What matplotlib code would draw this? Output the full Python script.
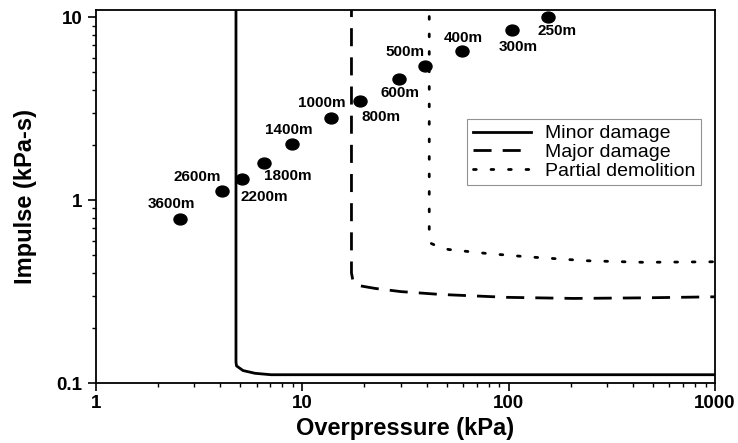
import numpy as np
import matplotlib
matplotlib.use('Agg')
from matplotlib import pyplot as plt
from matplotlib.path import Path
from matplotlib.ticker import NullFormatter

plt.rcParams['font.family'] = ['Liberation Sans', 'DejaVu Sans']

# blast points (standoff distance)
dist_labels = ['3600m', '2600m', '2200m', '1800m', '1400m', '1000m',
               '800m', '600m', '500m', '400m', '300m', '250m']
overpressure = [2.55, 4.07, 5.08, 6.52, 8.91, 13.8, 19.0, 29.3, 39.5, 59.2, 103.5, 155]
impulse = [0.79, 1.12, 1.31, 1.60, 2.02, 2.81, 3.49, 4.57, 5.42, 6.55, 8.5, 10.0]

# P-I damage curves
minor_p = [4.77, 4.77, 4.80, 5.16, 5.9, 7.05, 1000]
minor_i = [20, 0.13, 0.124, 0.117, 0.113, 0.111, 0.111]
major_p = [17.3, 17.3, 17.6, 19, 22.5, 30, 46.5, 98, 206, 433, 1000]
major_i = [20, 0.40, 0.36, 0.34, 0.329, 0.316, 0.305, 0.294, 0.290, 0.292, 0.296]
partial_p = [41.2, 41.2, 42, 45, 51, 78, 122, 239, 448, 1000]
partial_i = [20, 0.62, 0.58, 0.56, 0.537, 0.511, 0.49, 0.466, 0.457, 0.46]

# label offsets in pixels (dx, dy)
offsets = [(-8, 15), (-25, 14), (23, -18), (24, -13), (-3, 14), (-9, 15),
           (21, -16), (1, -14), (-20, 14), (2, 13), (6, -17), (9, -14)]

circ = Path.unit_circle()
ellipse = Path(circ.vertices * np.array([1.2, 1.0]), circ.codes)

fig = plt.figure(figsize=(7.38, 4.43), dpi=100)
ax = fig.add_axes([0.130, 0.1354, 0.839, 0.843])

lw = 2.0
ax.plot(minor_p, minor_i, color='black', lw=lw, label='Minor damage')
ax.plot(major_p, major_i, color='black', lw=lw, dashes=(6.5, 4), label='Major damage')
ax.plot(partial_p, partial_i, color='black', lw=lw, dashes=(1, 5.3),
        dash_capstyle='round', label='Partial demolition')

ax.plot(overpressure, impulse, ls='none', marker=ellipse, ms=9.4, color='black')
for lab, x, y, (dx, dy) in zip(dist_labels, overpressure, impulse, offsets):
    ax.annotate(lab, (x, y), xytext=(dx, dy), textcoords='offset pixels',
                ha='center', va='center', fontsize=11, fontweight='bold')

ax.set_xscale('log')
ax.set_yscale('log')
ax.set_xlim(1, 1000)
ax.set_ylim(0.1, 11)
ax.set_xticks([1, 10, 100, 1000], ['1', '10', '100', '1000'])
ax.set_yticks([0.1, 1, 10], ['0.1', '1', '10'])
ax.xaxis.set_minor_formatter(NullFormatter())
ax.yaxis.set_minor_formatter(NullFormatter())
ax.tick_params(which='major', direction='out', length=5.5, width=1.2, labelsize=13.5)
ax.tick_params(axis='y', which='major', pad=4)
ax.tick_params(axis='x', which='major', pad=3)
ax.tick_params(which='minor', direction='out', length=3, width=1.0)
for lbl in ax.get_xticklabels() + ax.get_yticklabels():
    lbl.set_fontweight('bold')
for s in ax.spines.values():
    s.set_linewidth(1.3)

ax.set_xlabel('Overpressure (kPa)', fontsize=17, fontweight='bold', labelpad=4)
ax.set_ylabel('Impulse (kPa-s)', fontsize=17, fontweight='bold', labelpad=14)

leg = ax.legend(loc='upper right', bbox_to_anchor=(0.977, 0.707), fontsize=14,
                handlelength=3.0, fancybox=False, edgecolor='#777777',
                borderpad=0.3, labelspacing=0.05, handletextpad=0.7,
                borderaxespad=0)
leg.get_frame().set_linewidth(0.8)

fig.savefig('out.png', dpi=100)
